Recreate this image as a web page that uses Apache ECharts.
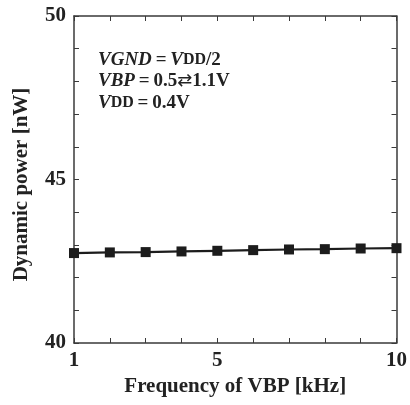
<!DOCTYPE html>
<html>
<head>
<meta charset="utf-8">
<script src="https://cdn.jsdelivr.net/npm/echarts@6/dist/echarts.min.js"></script>
<style>
  html, body { margin: 0; padding: 0; background: #fff; }
  #chart { width: 410px; height: 405px; }
</style>
</head>
<body>
<div id="chart"></div>
<script>
// Switching frequency of the back-bias pulse (kHz)
const frequencyKHz = [1, 2, 3, 4, 5, 6, 7, 8, 9, 10];
// Measured dynamic power (nW)
const dynamicPowerNW = [42.75, 42.77, 42.78, 42.80, 42.82, 42.84, 42.86, 42.87, 42.89, 42.90];
// Tick values that carry a printed label
const xLabelTicks = [1, 5, 10];
const yLabelTicks = [40, 45, 50];

const serif = "'Liberation Serif', 'Times New Roman', serif";
const axisColor = '#3a3a3a';
const ink = '#222';

const chart = echarts.init(document.getElementById('chart'));

const frameAxis = {
  type: 'value',
  axisLine: { show: true, lineStyle: { color: axisColor, width: 1.5 } },
  axisTick: { show: true, inside: true, length: 5, lineStyle: { color: axisColor, width: 1 } },
  splitLine: { show: false },
  axisLabel: { show: false }
};

// thin spaces around the equals sign
const EQ = '\u2009=\u2009';

chart.setOption({
  animation: false,
  grid: { left: 74, right: 10, top: 16, bottom: 62 },
  xAxis: [
    Object.assign({}, frameAxis, {
      position: 'bottom',
      min: 1, max: 10, interval: 1,
      name: 'Frequency of VBP [kHz]',
      nameLocation: 'middle',
      nameGap: 32,
      nameTextStyle: { fontFamily: serif, fontWeight: 'bold', fontSize: 21, color: ink },
      axisLabel: {
        show: true, margin: 7,
        fontFamily: serif, fontWeight: 'bold', fontSize: 21, color: ink,
        formatter: v => xLabelTicks.includes(v) ? String(v) : ''
      }
    }),
    Object.assign({}, frameAxis, { position: 'top', min: 1, max: 10, interval: 1 })
  ],
  yAxis: [
    Object.assign({}, frameAxis, {
      position: 'left',
      min: 40, max: 50, interval: 1,
      name: 'Dynamic power [nW]',
      nameLocation: 'middle',
      nameRotate: 90,
      nameGap: 42,
      nameTextStyle: { fontFamily: serif, fontWeight: 'bold', fontSize: 21, color: ink, padding: [0, 10, 0, 0] },
      axisLabel: {
        show: true, margin: 8,
        fontFamily: serif, fontWeight: 'bold', fontSize: 21, color: ink,
        formatter: v => yLabelTicks.includes(v) ? String(v) : ''
      }
    }),
    Object.assign({}, frameAxis, { position: 'right', min: 40, max: 50, interval: 1 })
  ],
  graphic: [{
    type: 'text',
    left: 98,
    top: 49,
    style: {
      text: '{i|VGND}{b|' + EQ + '}{i|V}{s|DD}{b|/2}\n' +
            '{i|VBP}{b|' + EQ + '0.5}{a|\u21C4}{b|1.1V}\n' +
            '{i|V}{s|DD}{b|' + EQ + '0.4V}',
      lineHeight: 21.5,
      rich: {
        i: { fontFamily: serif, fontWeight: 'bold', fontStyle: 'italic', fontSize: 19, fill: ink, lineHeight: 21.5 },
        b: { fontFamily: serif, fontWeight: 'bold', fontSize: 19, fill: ink, lineHeight: 21.5 },
        s: { fontFamily: serif, fontWeight: 'bold', fontSize: 16, fill: ink, lineHeight: 21.5 },
        a: { fontFamily: "'DejaVu Sans', sans-serif", fontWeight: 'normal', fontSize: 18, fill: ink, lineHeight: 21.5 }
      }
    }
  }],
  series: [{
    type: 'line',
    data: frequencyKHz.map((f, i) => [f, dynamicPowerNW[i]]),
    symbol: 'rect',
    symbolSize: 10,
    lineStyle: { color: '#1c1c1c', width: 2.2 },
    itemStyle: { color: '#1c1c1c' }
  }]
});
</script>
</body>
</html>
